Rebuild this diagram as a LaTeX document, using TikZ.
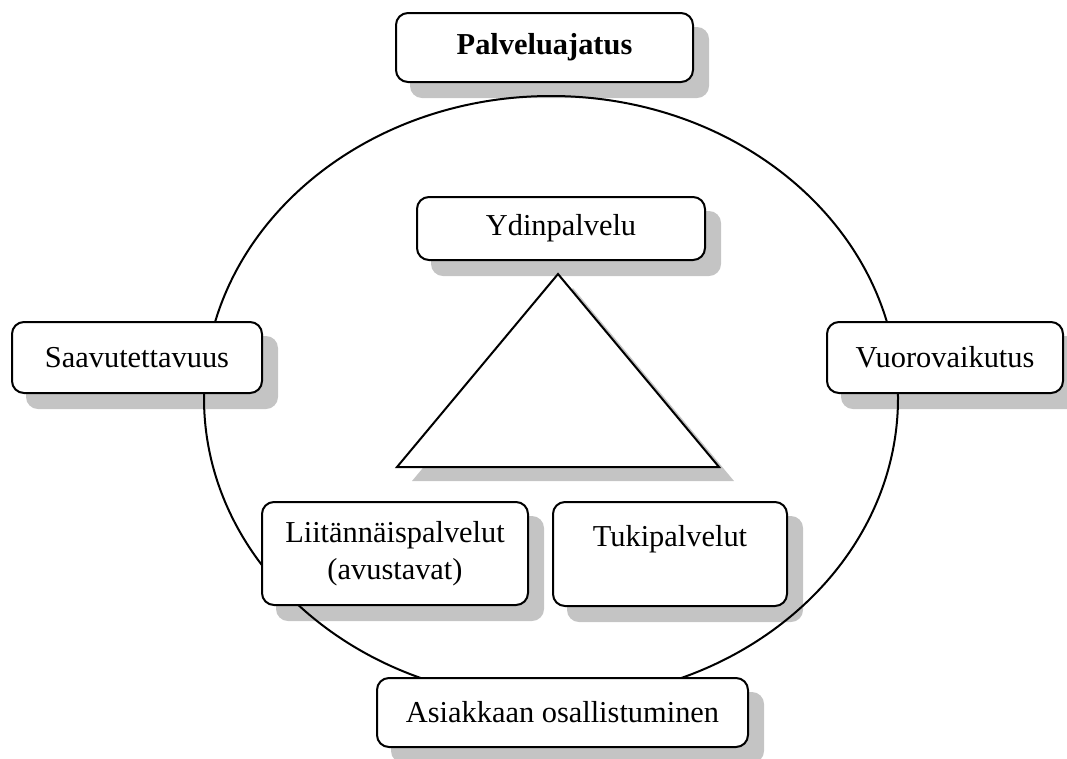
\documentclass[tikz,border=0pt]{standalone}
\usepackage{fontspec}
\setmainfont{Liberation Serif}
\usetikzlibrary{shapes.geometric}
\definecolor{shadowgray}{RGB}{196,196,196}
\pgfdeclarelayer{shade}
\pgfdeclarelayer{ring}
\pgfsetlayers{shade,ring,main}
% one drawing unit in points
\newcommand\unitpx{0.75pt}
\newcommand\castshadow[1]{%
  \fill[shadebox] ([shift={(15,15)}]#1.north west) rectangle ([shift={(15,15)}]#1.south east);}
\begin{document}
\begin{tikzpicture}[x=0.75pt,y=-0.75pt,
  box/.style={draw=black, line width=1.5pt, rounded corners=9pt, fill=white,
    inner sep=0pt, align=center, font=\fontsize{22.8}{27.75}\selectfont},
  size/.style 2 args={minimum width=#1*\unitpx, minimum height=#2*\unitpx},
  shadebox/.style={fill=shadowgray, rounded corners=9pt},
  outline/.style={draw=black, line width=1.5pt}]
\useasboundingbox (0,0) rectangle (1067,758);

% boxes
\node[box, size={297}{69}] (idea) at (544.5,47.5) {\bfseries Palveluajatus};
\node[box, size={288}{63}] (core) at (561,228.5) {Ydinpalvelu};
\node[box, size={250}{71}] (access) at (137,357.5) {Saavutettavuus};
\node[box, size={236}{71}] (interact) at (945,357.5) {Vuorovaikutus};
\node[box, size={266}{103}] (extra) at (395,553.5) {Liitännäispalvelut\\(avustavat)};
\node[box, size={234}{104}] (support) at (670,554) {Tukipalvelut\\\mbox{}};
\node[box, size={371}{69}] (customer) at (562.5,712.5) {Asiakkaan osallistuminen};

% central triangle
\coordinate (apex) at (558,274);
\coordinate (baseL) at (397,467);
\coordinate (baseR) at (719,467);
\filldraw[outline, fill=white, line join=miter] (apex) -- (baseL) -- (baseR) -- cycle;

% drop shadows
\begin{pgfonlayer}{shade}
  \castshadow{idea}
  \castshadow{core}
  \castshadow{access}
  \castshadow{interact}
  \castshadow{extra}
  \castshadow{support}
  \castshadow{customer}
  \fill[shadowgray] ([shift={(15,14)}]apex) -- ([shift={(15,14)}]baseL) -- ([shift={(15,14)}]baseR) -- cycle;
\end{pgfonlayer}

% surrounding ring
\begin{pgfonlayer}{ring}
  \node[outline, ellipse, size={694}{604}, inner sep=0pt] (ring) at (551,398) {};
\end{pgfonlayer}
\end{tikzpicture}
\end{document}
